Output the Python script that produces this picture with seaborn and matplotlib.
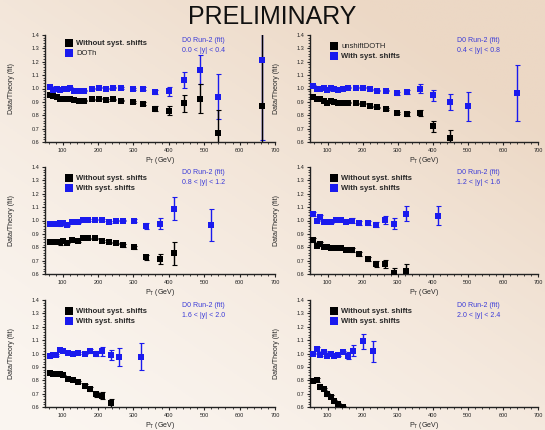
import numpy as np
import matplotlib
matplotlib.use("Agg")
import matplotlib.pyplot as plt
from matplotlib.ticker import MultipleLocator
import seaborn as sns

sns.set_style("ticks")
plt.rcParams['font.family'] = ['Liberation Sans', 'DejaVu Sans']

# ---------------- data ----------------
x_p1 = [63, 74, 83, 93, 104, 113, 122, 132, 146, 161, 182, 202, 222, 242, 266, 298, 326, 360, 401, 443, 489, 539, 664]
blue_p1 = [1.01, 0.99, 1.0, 0.99, 0.995, 0.998, 1.005, 0.985, 0.985, 0.985, 0.998, 1.007, 0.998, 1.007, 1.005,
           0.998, 0.998, 0.973, 0.978, 1.067, 1.142, 0.94, 1.216]
blue_e1 = [0.005] * 15 + [0.008, 0.012, 0.015, 0.033, 0.06, 0.11, 0.17, 0.6]
black_p1 = [0.953, 0.945, 0.933, 0.923, 0.918, 0.92, 0.925, 0.913, 0.91, 0.91, 0.918, 0.923, 0.913, 0.92, 0.91,
            0.90, 0.886, 0.849, 0.834, 0.888, 0.925, 0.67, 0.866]
black_e1 = [0.005] * 15 + [0.008, 0.012, 0.018, 0.033, 0.06, 0.11, 0.17, 0.6]

x_p2 = [58, 69, 79, 89, 99, 109, 119, 129, 144, 159, 180, 200, 220, 240, 267, 297, 327, 363, 402, 449, 500, 641]
blue_p2 = [1.02, 0.998, 0.998, 1.003, 0.99, 1.005, 0.995, 0.99, 0.998, 1.007, 1.007, 1.007, 0.993, 0.985, 0.985,
           0.965, 0.975, 1.0, 0.948, 0.898, 0.866, 0.965]
blue_e2 = [0.005] * 15 + [0.012, 0.015, 0.03, 0.04, 0.06, 0.11, 0.21]
black_p2 = [0.933, 0.923, 0.918, 0.908, 0.893, 0.908, 0.898, 0.893, 0.895, 0.895, 0.89, 0.886, 0.866, 0.858,
            0.846, 0.816, 0.806, 0.816, 0.717, 0.627]
black_e2 = [0.005] * 15 + [0.01, 0.015, 0.02, 0.04, 0.06]

x_p3 = [63, 72, 81, 91, 100, 112, 126, 142, 157, 172, 192, 211, 231, 250, 271, 301, 335, 375, 414, 518]
blue_p3 = [0.975, 0.973, 0.973, 0.978, 0.978, 0.965, 0.99, 0.99, 1.003, 1.005, 1.007, 1.005, 0.99, 1.0, 1.0,
           0.998, 0.958, 0.975, 1.087, 0.965]
blue_e3 = [0.005, 0.005, 0.005, 0.02] + [0.005] * 11 + [0.012, 0.02, 0.04, 0.085, 0.12]
black_p3 = [0.836, 0.836, 0.836, 0.836, 0.846, 0.834, 0.851, 0.846, 0.866, 0.866, 0.866, 0.846, 0.836, 0.829,
            0.816, 0.799, 0.724, 0.712, 0.754]
black_e3 = [0.005, 0.005, 0.005, 0.02] + [0.005] * 10 + [0.012, 0.012, 0.02, 0.04, 0.085]

x_p4 = [59, 69, 79, 89, 99, 109, 123, 138, 154, 169, 189, 215, 239, 264, 290, 324, 415]
blue_p4 = [1.05, 0.998, 1.025, 0.99, 0.99, 0.99, 1.005, 1.005, 0.99, 1.0, 0.985, 0.978, 0.968, 1.005, 0.975,
           1.05, 1.035]
blue_e4 = [0.015, 0.005, 0.015, 0.005, 0.005, 0.005, 0.005, 0.005, 0.005, 0.015, 0.015, 0.015, 0.02, 0.03,
           0.04, 0.055, 0.07]
black_p4 = [0.851, 0.811, 0.821, 0.804, 0.799, 0.791, 0.796, 0.791, 0.779, 0.781, 0.752, 0.712, 0.675, 0.675,
            0.61, 0.622]
black_e4 = [0.015, 0.005, 0.015, 0.005, 0.005, 0.005, 0.005, 0.005, 0.005, 0.015, 0.015, 0.015, 0.02, 0.03,
            0.035, 0.05]

x_p5 = [63, 72, 81, 91, 100, 114, 128, 142, 162, 177, 193, 211, 236, 260, 320]
blue_p5 = [0.98, 0.988, 0.99, 1.027, 1.015, 1.002, 1.0, 1.005, 0.998, 1.018, 1.0, 1.015, 0.988, 0.975, 0.975]
blue_e5 = [0.005] * 9 + [0.015, 0.02, 0.03, 0.04, 0.065, 0.1]
black_p5 = [0.851, 0.849, 0.849, 0.846, 0.836, 0.811, 0.801, 0.787, 0.754, 0.734, 0.694, 0.684, 0.627]
black_e5 = [0.005] * 8 + [0.015, 0.015, 0.02, 0.025, 0.035]

x_p6 = [59, 69, 79, 89, 99, 109, 119, 129, 144, 158, 174, 200, 230]
blue_p6 = [0.998, 1.032, 0.99, 1.013, 0.985, 0.998, 0.983, 0.99, 1.01, 0.985, 1.02, 1.09, 1.015]
blue_e6 = [0.005, 0.015] + [0.005] * 7 + [0.025, 0.04, 0.055, 0.075]
black_p6 = [0.796, 0.804, 0.747, 0.734, 0.694, 0.677, 0.642, 0.622, 0.6]
black_e6 = [0.01, 0.015, 0.01, 0.01, 0.01, 0.01, 0.01, 0.01, 0.01]

rap_labels = ["0.0 < |y| < 0.4", "0.4 < |y| < 0.8", "0.8 < |y| < 1.2",
              "1.2 < |y| < 1.6", "1.6 < |y| < 2.0", "2.0 < |y| < 2.4"]
legend_black = ["Without syst. shifts", "unshiftDOTH", "Without syst. shifts",
                "Without syst. shifts", "Without syst. shifts", "Without syst. shifts"]
legend_blue = ["DOTh", "With syst. shifts", "With syst. shifts",
               "With syst. shifts", "With syst. shifts", "With syst. shifts"]
bold_black = [True, False, True, True, True, True]
bold_blue = [False, True, True, True, True, True]

panels = [
    (x_p1, blue_p1, blue_e1, black_p1, black_e1),
    (x_p2, blue_p2, blue_e2, black_p2, black_e2),
    (x_p3, blue_p3, blue_e3, black_p3, black_e3),
    (x_p4, blue_p4, blue_e4, black_p4, black_e4),
    (x_p5, blue_p5, blue_e5, black_p5, black_e5),
    (x_p6, blue_p6, blue_e6, black_p6, black_e6),
]

# ---------------- figure ----------------
W, H = 545, 430
fig = plt.figure(figsize=(W / 100, H / 100), dpi=100)

# background gradient
bg = fig.add_axes([0, 0, 1, 1], zorder=-10)
gx, gy = np.meshgrid(np.linspace(0, 1, 200), np.linspace(1, 0, 160))
t = np.clip((gx * 0.6 + gy * 0.7) / 1.1, 0, 1) ** 1.4
light = np.array([251, 246, 241]) / 255
dark = np.array([236, 216, 197]) / 255
img = light[None, None, :] + (dark - light)[None, None, :] * t[..., None]
bg.imshow(img, extent=[0, 1, 0, 1], aspect='auto', origin='upper')
bg.axis('off')

BLUE = '#1a1aee'
ANN = '#3a3ad8'

lefts = [45, 310]
widths = [230, 228]
tops = [35, 167, 300]
hgt = 107

for i, (xs, bv, be, kv, ke) in enumerate(panels):
    r, c = divmod(i, 2)
    ax = fig.add_axes([lefts[c] / W, 1 - (tops[r] + hgt) / H, widths[c] / W, hgt / H])
    ax.set_facecolor('none')

    ax.errorbar(xs, bv, yerr=be, fmt='none', ecolor=BLUE, elinewidth=1.0, capsize=1.8, capthick=0.8, zorder=2)
    ax.errorbar(xs[:len(kv)], kv, yerr=ke, fmt='none', ecolor='black', elinewidth=1.0, capsize=1.8,
                capthick=0.8, zorder=2)
    sns.scatterplot(x=xs[:len(kv)], y=kv, ax=ax, marker='s', color='black', s=15, linewidth=0, zorder=3,
                    label=legend_black[i])
    sns.scatterplot(x=xs, y=bv, ax=ax, marker='s', color=BLUE, s=15, linewidth=0, zorder=3,
                    label=legend_blue[i])

    ax.set_xlim(50, 700)
    ax.set_ylim(0.6, 1.4)
    ax.xaxis.set_major_locator(MultipleLocator(100))
    ax.xaxis.set_minor_locator(MultipleLocator(20))
    ax.yaxis.set_major_locator(MultipleLocator(0.1))
    ax.yaxis.set_minor_locator(MultipleLocator(0.02))
    ax.xaxis.set_major_formatter(matplotlib.ticker.FuncFormatter(lambda v, p: f"{int(v)}"))
    ax.yaxis.set_major_formatter(matplotlib.ticker.FuncFormatter(lambda v, p: f"{v:.1f}"))
    ax.tick_params(axis='both', which='major', labelsize=4, length=2.5, width=0.8, pad=1.5, colors='#222222')
    ax.tick_params(axis='both', which='minor', length=1.3, width=0.6, colors='#222222')
    for sp in ['top', 'right']:
        ax.spines[sp].set_visible(False)
    for sp in ['left', 'bottom']:
        ax.spines[sp].set_linewidth(1.0)
        ax.spines[sp].set_color('#222222')

    ax.set_xlabel("P$_\\mathregular{T}$ (GeV)", fontsize=5, labelpad=2)
    ax.set_ylabel("Data/Theory (fit)", fontsize=5, labelpad=12)

    ax.text(0.74 if c == 1 else 0.69, 0.90, "D0 Run-2 (fit)\n" + rap_labels[i],
            transform=ax.transAxes, ha='center', va='center', fontsize=5, color=ANN, linespacing=1.5)

    leg = ax.legend(loc='upper left', bbox_to_anchor=(0.07, 1.0 if i == 0 else 0.97), frameon=False,
                    fontsize=5.5, handlelength=0.8, handletextpad=0.6, labelspacing=0.3, markerscale=1.4,
                    borderaxespad=0.2)
    for txt, b in zip(leg.get_texts(), [bold_black[i], bold_blue[i]]):
        if b:
            txt.set_fontweight('bold')

fig.text(0.5, 1 - 17 / H, "PRELIMINARY", ha='center', va='center', fontsize=18, color='#111111')

fig.savefig("out.png", dpi=100)
